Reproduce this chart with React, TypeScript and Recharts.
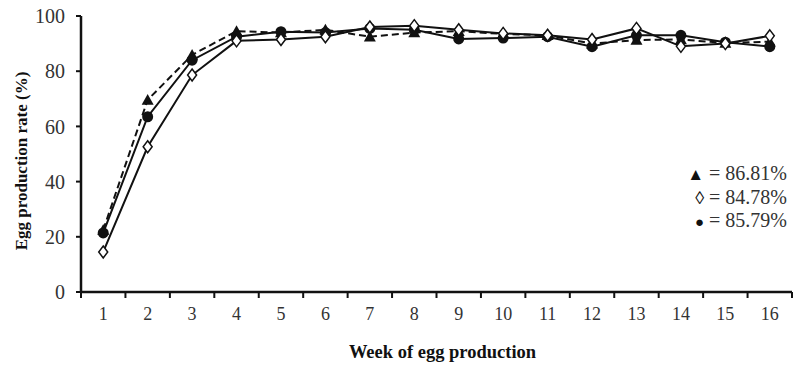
import { LineChart, Line, XAxis, YAxis } from 'recharts'

// ─── Data ─────────────────────────────────────────────────────────────────────

const weeks = [1, 2, 3, 4, 5, 6, 7, 8, 9, 10, 11, 12, 13, 14, 15, 16]

// ▲ = 86.81%
const triangleRate = [22.5, 69.6, 85.9, 94.5, 94, 95, 92.5, 94, 94.5, 93.5, 93, 90, 91.3, 91.5, 90.2, 90.7]
// ◊ = 84.78%
const diamondRate = [14.5, 52.6, 78.6, 91, 91.5, 92.5, 96, 96.5, 95, 93.7, 93, 91.5, 95.5, 89, 90, 92.8]
// ● = 85.79%
const circleRate = [21.4, 63.5, 84, 92.5, 94.3, 94, 95.5, 95, 91.7, 92, 92.5, 88.9, 93, 93, 90.5, 88.9]

const yTicks = [0, 20, 40, 60, 80, 100]

const legendItems = [
  { symbol: '▲', size: 17, label: '= 86.81%' },
  { symbol: '◊', size: 18, label: '= 84.78%' },
  { symbol: '●', size: 15, label: '= 85.79%' },
]

const data = weeks.map((w, i) => ({
  week: w,
  tri: triangleRate[i],
  dia: diamondRate[i],
  cir: circleRate[i],
}))

// tick marks sit between weeks, labels on the weeks
const xTicks = [...weeks.flatMap((w) => [w - 0.5, w]), weeks[weeks.length - 1] + 0.5]

// ─── Styles ───────────────────────────────────────────────────────────────────

const FONT = '"Liberation Serif", "Times New Roman", serif'
const INK = '#111'
const TEXT = '#333'

// ─── Marks ────────────────────────────────────────────────────────────────────

function TriangleDot({ cx, cy }: any) {
  const s = 6
  return <path d={`M${cx},${cy - s} L${cx + s},${cy + s * 0.8} L${cx - s},${cy + s * 0.8} Z`} fill={INK} />
}

function DiamondDot({ cx, cy }: any) {
  return (
    <path
      d={`M${cx},${cy - 6} L${cx + 4.5},${cy} L${cx},${cy + 6} L${cx - 4.5},${cy} Z`}
      fill="#fff"
      stroke={INK}
      strokeWidth={1.5}
    />
  )
}

function CircleDot({ cx, cy }: any) {
  return <circle cx={cx} cy={cy} r={5.5} fill={INK} />
}

function WeekTick({ x, y, payload }: any) {
  const v = payload.value
  if (Number.isInteger(v)) {
    return (
      <text x={x} y={y + 28} textAnchor="middle" fontFamily={FONT} fontSize={18} fill={TEXT}>
        {v}
      </text>
    )
  }
  return <line x1={x} y1={y} x2={x} y2={y + 6} stroke={INK} strokeWidth={2} />
}

// ─── Component ────────────────────────────────────────────────────────────────

export default function App() {
  return (
    <div style={{ position: 'relative', width: 793, height: 365, background: '#fff', fontFamily: FONT }}>
      <style>{'body{margin:0}'}</style>
      <LineChart width={793} height={365} data={data} margin={{ top: 16, right: 1, bottom: 0, left: 0 }}>
        <XAxis
          dataKey="week"
          type="number"
          domain={[0.5, 16.5]}
          ticks={xTicks}
          interval={0}
          tick={<WeekTick />}
          tickLine={false}
          tickSize={0}
          tickMargin={0}
          height={73}
          axisLine={{ stroke: INK, strokeWidth: 2.5 }}
          label={{
            value: 'Week of egg production',
            position: 'insideBottom',
            offset: 7,
            dx: 6,
            fontFamily: FONT,
            fontSize: 18.5,
            fontWeight: 'bold',
            fill: INK,
          }}
        />
        <YAxis
          domain={[0, 100]}
          ticks={yTicks}
          width={81}
          tickSize={5}
          tickMargin={11}
          tick={{ fontFamily: FONT, fontSize: 20, fill: TEXT }}
          tickLine={{ stroke: INK, strokeWidth: 2 }}
          axisLine={{ stroke: INK, strokeWidth: 2.5 }}
          label={{
            value: 'Egg production rate (%)',
            angle: -90,
            position: 'center',
            dx: -20,
            dy: 7,
            fontFamily: FONT,
            fontSize: 17,
            fontWeight: 'bold',
            fill: INK,
          }}
        />
        <Line
          dataKey="tri"
          stroke={INK}
          strokeWidth={2}
          strokeDasharray="7 4"
          dot={(p: any) => <TriangleDot key={`t${p.index}`} {...p} />}
          isAnimationActive={false}
        />
        <Line
          dataKey="cir"
          stroke={INK}
          strokeWidth={2}
          dot={(p: any) => <CircleDot key={`c${p.index}`} {...p} />}
          isAnimationActive={false}
        />
        <Line
          dataKey="dia"
          stroke={INK}
          strokeWidth={2}
          dot={(p: any) => <DiamondDot key={`d${p.index}`} {...p} />}
          isAnimationActive={false}
        />
      </LineChart>

      {/* group means */}
      <div
        style={{
          position: 'absolute',
          top: 162,
          right: 6,
          fontSize: 20,
          lineHeight: '22px',
          color: TEXT,
          textAlign: 'right',
        }}
      >
        {legendItems.map((it) => (
          <div key={it.label}>
            <span style={{ color: INK, fontSize: it.size }}>{it.symbol}</span> {it.label}
          </div>
        ))}
      </div>
    </div>
  )
}
